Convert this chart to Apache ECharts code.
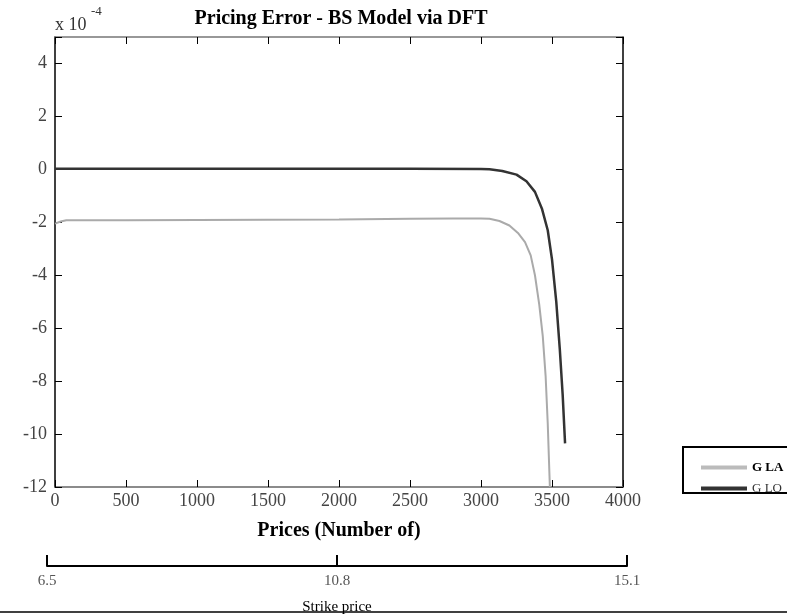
<!DOCTYPE html>
<html>
<head>
<meta charset="utf-8">
<script src="https://cdn.jsdelivr.net/npm/echarts@6/dist/echarts.min.js"></script>
<style>
  html, body { margin: 0; padding: 0; background: #fff; }
  #chart { width: 787px; height: 616px; }
</style>
</head>
<body>
<div id="chart"></div>
<script>
// prices (number of) for each curve
var laX = [0, 40, 80, 500, 1000, 1500, 2000, 2500, 2800, 3000, 3060, 3130, 3200, 3260, 3310, 3350, 3380, 3410, 3435, 3455, 3470, 3485];
var laY = [-2.05, -1.97, -1.92, -1.92, -1.91, -1.9, -1.89, -1.87, -1.86, -1.86, -1.87, -1.95, -2.12, -2.4, -2.75, -3.25, -4.0, -5.1, -6.3, -7.8, -9.6, -12];
var loX = [0, 500, 1000, 1500, 2000, 2500, 3000, 3060, 3150, 3250, 3320, 3380, 3430, 3470, 3500, 3530, 3555, 3575, 3592];
var loY = [0.02, 0.02, 0.02, 0.02, 0.02, 0.02, 0.01, 0, -0.06, -0.2, -0.45, -0.85, -1.5, -2.3, -3.4, -5.0, -6.8, -8.5, -10.35];
var strikeLabels = ['6.5', '10.8', '15.1'];
var seriesNames = ['G LA', 'G LO'];

var serif = '"Liberation Serif", "DejaVu Serif", serif';

function pairs(xs, ys) {
  var out = [];
  for (var i = 0; i < xs.length; i++) out.push([xs[i], ys[i]]);
  return out;
}

var chart = echarts.init(document.getElementById('chart'));

var option = {
  backgroundColor: '#fff',
  animation: false,
  title: {
    text: 'Pricing Error - BS Model via DFT',
    left: 336,
    textAlign: 'center',
    top: 4,
    textStyle: { fontFamily: serif, fontSize: 20, fontWeight: 'bold', color: '#000' }
  },
  legend: {
    orient: 'vertical',
    left: 696,
    top: 456,
    itemGap: 8,
    itemWidth: 46,
    itemHeight: 4,
    icon: 'rect',
    data: [
      { name: seriesNames[0], itemStyle: { color: '#bbbbbb' } },
      { name: seriesNames[1], itemStyle: { color: '#333333' } }
    ],
    formatter: function (n) { return n === 'G LA' ? '{b|' + n + '}' : '{n|' + n + '}'; },
    textStyle: {
      rich: {
        b: { fontFamily: serif, fontSize: 13, fontWeight: 'bold', color: '#000' },
        n: { fontFamily: serif, fontSize: 13, color: '#333' }
      }
    }
  },
  graphic: [{
    // exponent note above the y axis
    type: 'text',
    x: 55, y: 34,
    style: { text: 'x 10', font: '18px ' + serif, fill: '#333', verticalAlign: 'bottom' }
  }, {
    type: 'text',
    x: 91, y: 18,
    style: { text: '-4', font: '13px ' + serif, fill: '#333', verticalAlign: 'bottom' }
  }, {
    type: 'rect',
    shape: { x: 683, y: 447, width: 120, height: 46 },
    style: { fill: 'none', stroke: '#000', lineWidth: 2 }
  }, {
    type: 'line',
    shape: { x1: 0, y1: 612, x2: 787, y2: 612 },
    style: { stroke: '#000', lineWidth: 1.5 },
    z: -1
  }],
  grid: [{
    left: 55, top: 37, width: 568, height: 450
  }, {
    left: 47, top: 560, width: 580, height: 6
  }],
  xAxis: [{
    type: 'value',
    gridIndex: 0,
    min: 0, max: 4000, interval: 500,
    name: 'Prices (Number of)',
    nameLocation: 'middle',
    nameGap: 34,
    nameTextStyle: { fontFamily: serif, fontSize: 20, fontWeight: 'bold', color: '#000' },
    axisLine: { onZero: false, lineStyle: { color: '#666', width: 1.5 } },
    axisTick: { inside: true, length: 7, lineStyle: { color: '#000' } },
    axisLabel: {
      fontFamily: serif, fontSize: 18, color: '#444', margin: 5,
      formatter: function (v) { return String(v); }
    },
    splitLine: { show: false }
  }, {
    type: 'value',
    gridIndex: 0,
    position: 'top',
    min: 0, max: 4000, interval: 500,
    axisLine: { onZero: false, lineStyle: { color: '#777', width: 1.5 } },
    axisTick: { inside: true, length: 7, lineStyle: { color: '#000' } },
    axisLabel: { show: false },
    splitLine: { show: false }
  }, {
    type: 'category',
    gridIndex: 1,
    data: strikeLabels,
    boundaryGap: false,
    position: 'bottom',
    name: 'Strike price',
    nameLocation: 'middle',
    nameGap: 34,
    nameTextStyle: { fontFamily: serif, fontSize: 15, color: '#000' },
    axisLine: { lineStyle: { color: '#000', width: 2 } },
    axisTick: { inside: true, length: 11, alignWithLabel: true, lineStyle: { color: '#000', width: 2 } },
    axisLabel: { fontFamily: serif, fontSize: 15, color: '#555', margin: 8 },
    splitLine: { show: false }
  }],
  yAxis: [{
    type: 'value',
    gridIndex: 0,
    min: -12, max: 5, interval: 2,
    axisLine: { onZero: false, lineStyle: { color: '#000', width: 1.5 } },
    axisTick: { inside: true, length: 7, lineStyle: { color: '#000' } },
    axisLabel: {
      fontFamily: serif, fontSize: 18, color: '#444', margin: 8,
      formatter: function (v) { return v > 4 ? '' : String(v); }
    },
    splitLine: { show: false }
  }, {
    type: 'value',
    gridIndex: 0,
    position: 'right',
    min: -12, max: 5, interval: 2,
    axisLine: { onZero: false, lineStyle: { color: '#000', width: 1.5 } },
    axisTick: { inside: true, length: 7, lineStyle: { color: '#000' } },
    axisLabel: { show: false },
    splitLine: { show: false }
  }, {
    type: 'value',
    gridIndex: 1,
    show: false
  }],
  series: [{
    name: 'G LA',
    type: 'line',
    xAxisIndex: 0,
    yAxisIndex: 0,
    data: pairs(laX, laY),
    symbol: 'none',
    lineStyle: { color: '#aaaaaa', width: 2 },
    itemStyle: { color: '#aaaaaa' }
  }, {
    name: 'G LO',
    type: 'line',
    xAxisIndex: 0,
    yAxisIndex: 0,
    data: pairs(loX, loY),
    symbol: 'none',
    lineStyle: { color: '#333333', width: 2.5 },
    itemStyle: { color: '#333333' }
  }]
};

chart.setOption(option);
</script>
</body>
</html>
